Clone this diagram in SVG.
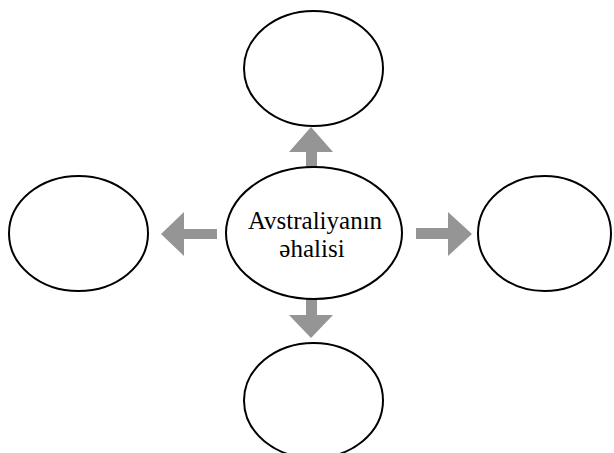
<svg xmlns="http://www.w3.org/2000/svg" width="614" height="453" viewBox="0 0 614 453">
  <style>
    .node { fill: #ffffff; stroke: #000000; stroke-width: 2; }
    .arrow { fill: #959595; stroke: none; }
    .label { font-family: "Liberation Serif", "DejaVu Serif", "Times New Roman", serif; font-size: 25px; fill: #000000; text-anchor: middle; }
  </style>
  <rect width="614" height="453" fill="#ffffff"/>
  <g id="connectors">
    <!-- up -->
    <polygon class="arrow" points="306,168 306,152 289,152 311,127 333,152 317,152 317,168"/>
    <!-- down -->
    <polygon class="arrow" points="306,298 306,315 289,315 311,338 333,315 317,315 317,298"/>
    <!-- left -->
    <polygon class="arrow" points="217,229 184,229 184,212 161,234 184,256 184,239 217,239"/>
    <!-- right -->
    <polygon class="arrow" points="416,228 448,228 448,212 472,234 448,256 448,239 416,239"/>
  </g>
  <g id="node-top">
    <ellipse class="node" cx="313.5" cy="68.5" rx="69.5" ry="57.5"/>
  </g>
  <g id="node-left">
    <ellipse class="node" cx="78.5" cy="233.5" rx="69.5" ry="57.5"/>
  </g>
  <g id="node-right">
    <ellipse class="node" cx="544.5" cy="233.5" rx="66.5" ry="57.5"/>
  </g>
  <g id="node-bottom">
    <ellipse class="node" cx="313.5" cy="400.5" rx="69.5" ry="57.5"/>
  </g>
  <g id="node-center">
    <ellipse class="node" cx="314" cy="233" rx="88" ry="66"/>
    <text class="label" x="315" y="229">Avstraliyanın</text>
    <text class="label" x="312" y="257">əhalisi</text>
  </g>
</svg>
